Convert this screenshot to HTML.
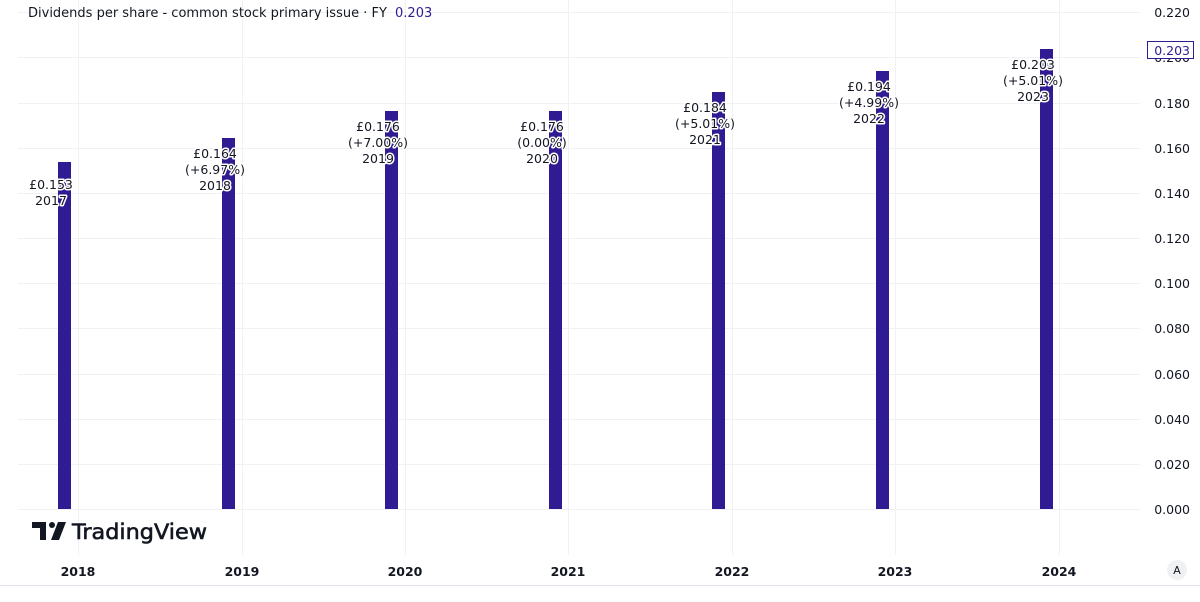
<!DOCTYPE html>
<html><head><meta charset="utf-8"><style>
html,body{margin:0;padding:0;background:#fff;}
svg text{font-family:"DejaVu Sans","Liberation Sans",sans-serif;}
</style></head><body>
<svg width="1200" height="597" xmlns="http://www.w3.org/2000/svg">
<rect width="1200" height="597" fill="#fff"/>
<g stroke="#f0f1f3" stroke-width="1">
<line x1="18" y1="509.5" x2="1140" y2="509.5"/>
<line x1="18" y1="464.5" x2="1140" y2="464.5"/>
<line x1="18" y1="419.5" x2="1140" y2="419.5"/>
<line x1="18" y1="374.5" x2="1140" y2="374.5"/>
<line x1="18" y1="328.5" x2="1140" y2="328.5"/>
<line x1="18" y1="283.5" x2="1140" y2="283.5"/>
<line x1="18" y1="238.5" x2="1140" y2="238.5"/>
<line x1="18" y1="193.5" x2="1140" y2="193.5"/>
<line x1="18" y1="148.5" x2="1140" y2="148.5"/>
<line x1="18" y1="103.5" x2="1140" y2="103.5"/>
<line x1="18" y1="57.5" x2="1140" y2="57.5"/>
<line x1="18" y1="12.5" x2="1140" y2="12.5"/>
<line x1="78.5" y1="0" x2="78.5" y2="555"/>
<line x1="242.5" y1="0" x2="242.5" y2="555"/>
<line x1="405.5" y1="0" x2="405.5" y2="555"/>
<line x1="568.5" y1="0" x2="568.5" y2="555"/>
<line x1="732.5" y1="0" x2="732.5" y2="555"/>
<line x1="895.5" y1="0" x2="895.5" y2="555"/>
<line x1="1059.5" y1="0" x2="1059.5" y2="555"/>
</g>
<line x1="0" y1="585.5" x2="1200" y2="585.5" stroke="#e0e3eb"/>
<g fill="#311b92">
<rect x="58" y="162" width="13" height="347"/>
<rect x="222" y="138" width="13" height="371"/>
<rect x="385" y="111" width="13" height="398"/>
<rect x="549" y="111" width="13" height="398"/>
<rect x="712" y="92" width="13" height="417"/>
<rect x="876" y="71" width="13" height="438"/>
<rect x="1040" y="49" width="13" height="460"/>
</g>
<g font-size="12.5" fill="#131722" text-anchor="middle" stroke="#fff" stroke-width="3" paint-order="stroke" stroke-linejoin="round">
<text x="51" y="189">£0.153</text><text x="51" y="205">2017</text>
<text x="215" y="158">£0.164</text><text x="215" y="174">(+6.97%)</text><text x="215" y="190">2018</text>
<text x="378" y="131">£0.176</text><text x="378" y="147">(+7.00%)</text><text x="378" y="163">2019</text>
<text x="542" y="131">£0.176</text><text x="542" y="147">(0.00%)</text><text x="542" y="163">2020</text>
<text x="705" y="112">£0.184</text><text x="705" y="128">(+5.01%)</text><text x="705" y="144">2021</text>
<text x="869" y="91">£0.194</text><text x="869" y="107">(+4.99%)</text><text x="869" y="123">2022</text>
<text x="1033" y="69">£0.203</text><text x="1033" y="85">(+5.01%)</text><text x="1033" y="101">2023</text>
</g>
<g font-size="12.5" fill="#131722" text-anchor="end">
<text x="1190" y="17">0.220</text>
<text x="1190" y="62">0.200</text>
<text x="1190" y="108">0.180</text>
<text x="1190" y="153">0.160</text>
<text x="1190" y="198">0.140</text>
<text x="1190" y="243">0.120</text>
<text x="1190" y="288">0.100</text>
<text x="1190" y="333">0.080</text>
<text x="1190" y="379">0.060</text>
<text x="1190" y="424">0.040</text>
<text x="1190" y="469">0.020</text>
<text x="1190" y="514">0.000</text>
</g>
<rect x="1147.5" y="41.5" width="46" height="17" fill="#fff" stroke="#311b92"/>
<text x="1190" y="55" font-size="12.5" fill="#311b92" text-anchor="end">0.203</text>
<text x="28" y="17" font-size="13" fill="#131722">Dividends per share - common stock primary issue · FY <tspan fill="#311b92" dx="4">0.203</tspan></text>
<g font-size="12.5" font-weight="bold" fill="#131722" text-anchor="middle">
<text x="78" y="576">2018</text><text x="242" y="576">2019</text><text x="405" y="576">2020</text>
<text x="568" y="576">2021</text><text x="732" y="576">2022</text><text x="895" y="576">2023</text><text x="1059" y="576">2024</text>
</g>
<circle cx="1177" cy="570" r="10" fill="#f0f1f3"/>
<text x="1177" y="574" font-size="11" fill="#131722" text-anchor="middle">A</text>
<g fill="#131722">
<rect x="32" y="522" width="14" height="6"/><rect x="40" y="522" width="6" height="18"/>
<circle cx="52" cy="525" r="3"/>
<polygon points="58,522 66,522 59,540 51,540"/>
</g>
<text x="72" y="539" font-size="21" fill="#131722" font-family="Liberation Sans, sans-serif" textLength="135" lengthAdjust="spacingAndGlyphs" stroke="#131722" stroke-width="0.6">TradingView</text>
</svg>
</body></html>
